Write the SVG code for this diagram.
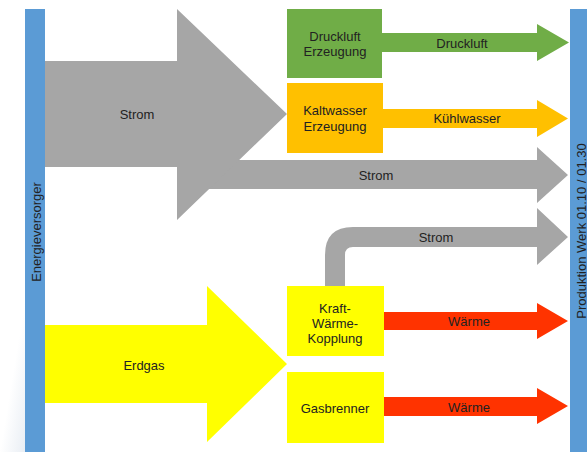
<svg xmlns="http://www.w3.org/2000/svg" width="587" height="452" viewBox="0 0 587 452">
<defs>
<style>
text{font-family:"Liberation Sans",Arial,sans-serif;font-size:13px;fill:#222;text-anchor:middle;dominant-baseline:central}
.bar{fill:#5B9BD5}
.gray{fill:#A6A6A6}
.green{fill:#70AD47}
.orange{fill:#FFC000}
.yellow{fill:#FFFF00}
.red{fill:#FF3300}
</style>
<linearGradient id="bg" x1="0" y1="0" x2="1" y2="1">
<stop offset="0.5" stop-color="#ffffff"/>
<stop offset="1" stop-color="#e9eef4"/>
</linearGradient>
</defs>
<rect width="587" height="452" fill="#fff"/>
<rect x="0" y="300" width="25" height="152" fill="url(#bg)"/>

<g id="connectors">
<path class="gray" d="M177,160 H537 V147 L568,175 L537,203 V189 H177 Z"/>
<path class="gray" d="M45,61 H177 V9 L287,114 L177,220 V167 H45 Z"/>
<path class="green" d="M382,33 H537 V24 L569,42.5 L537,61 V52 H382 Z"/>
<path class="orange" d="M382,109 H537 V100 L568,118.5 L537,137 V128 H382 Z"/>
<path class="gray" d="M325,286 V255 Q325,227 353,227 H537 V208 L568,237 L537,265 V247 H353 Q345,247 345,255 V286 Z"/>
<path class="red" d="M384,312 H537 V303 L568,321 L537,339 V330 H384 Z"/>
<path class="red" d="M384,397 H537 V388 L568,406 L537,424 V416 H384 Z"/>
<path class="yellow" d="M45,325 H207 V286 L287,364 L207,442 V403 H45 Z"/>
<text x="137" y="114">Strom</text>
<text x="376" y="175">Strom</text>
<text x="462" y="43">Druckluft</text>
<text x="467" y="118">Kühlwasser</text>
<text x="436" y="237">Strom</text>
<text x="469" y="321">Wärme</text>
<text x="469" y="407">Wärme</text>
<text x="144" y="365">Erdgas</text>
</g>

<g id="energieversorger">
<rect class="bar" x="25" y="9" width="20" height="443"/>
<text transform="translate(36,232) rotate(-90)">Energieversorger</text>
</g>

<g id="produktion">
<rect class="bar" x="570" y="9" width="17" height="443"/>
<text transform="translate(581,231) rotate(-90)">Produktion Werk 01.10 / 01.30</text>
</g>

<g id="druckluft-erzeugung">
<rect class="green" x="287" y="9" width="95" height="69"/>
<text x="335" y="36">Druckluft</text>
<text x="335" y="51">Erzeugung</text>
</g>

<g id="kaltwasser-erzeugung">
<rect class="orange" x="287" y="83" width="96" height="70"/>
<text x="335" y="110">Kaltwasser</text>
<text x="335" y="126">Erzeugung</text>
</g>

<g id="kwk">
<rect class="yellow" x="287" y="286" width="97" height="70"/>
<text x="335" y="308">Kraft-</text>
<text x="335" y="323">Wärme-</text>
<text x="335" y="338">Kopplung</text>
</g>

<g id="gasbrenner">
<rect class="yellow" x="287" y="372" width="97" height="71"/>
<text x="335" y="408">Gasbrenner</text>
</g>
</svg>
